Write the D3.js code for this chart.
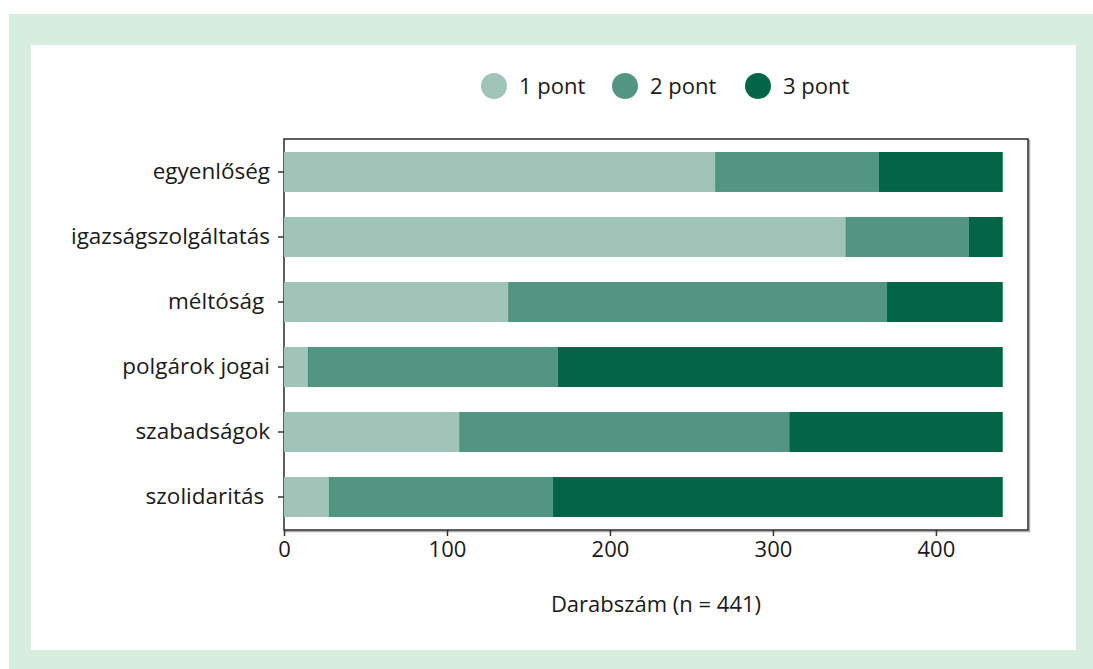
<!DOCTYPE html>
<html>
<head>
<meta charset="utf-8">
<script src="https://cdn.jsdelivr.net/npm/d3@7"></script>
<style>
  body { margin: 0; background: #fff; }
  text { font-family: "Open Sans", "Noto Sans", sans-serif; fill: #1a1a1a; white-space: pre; }
</style>
</head>
<body>
<div id="chart-area"></div>
<script>
let width = 1093, height = 669;

// data
let categories = ["egyenlőség", "igazságszolgáltatás", "méltóság ", "polgárok jogai", "szabadságok", "szolidaritás "];
let series = ["1 pont", "2 pont", "3 pont"];
let pont1 = [265, 345, 138, 15, 108, 28];
let pont2 = [100, 75, 232, 153, 202, 137];
let pont3 = [76, 21, 71, 273, 131, 276];
let xTicks = [0, 100, 200, 300, 400];
let xTitle = "Darabszám (n = 441)";

let colors = ["#a0c5b8", "#529682", "#026646"];

let rows = categories.map((c, i) => ({ cat: c, "1 pont": pont1[i], "2 pont": pont2[i], "3 pont": pont3[i] }));

let svg = d3.select("#chart-area").append("svg")
    .attr("width", width)
    .attr("height", height);

// green frame
svg.append("rect").attr("x", 9).attr("y", 14).attr("width", width - 9).attr("height", height - 14).attr("fill", "#d7ede0");
svg.append("rect").attr("x", 31).attr("y", 45).attr("width", 1045).attr("height", 605).attr("fill", "#fff");

let m = { left: 284, top: 139, right: 1028, bottom: 530 };

let x = d3.scaleLinear().domain([0, 456.5]).range([m.left, m.right]);
let y = d3.scaleBand().domain(categories).range([m.top, m.bottom]).paddingInner(0.385).paddingOuter(0.2);

let stack = d3.stack().keys(series)(rows);

// plot box shadow + border
svg.append("rect").attr("x", m.left + 1.5).attr("y", m.top + 1.5)
    .attr("width", m.right - m.left).attr("height", m.bottom - m.top)
    .attr("fill", "none").attr("stroke", "#aaa").attr("stroke-width", 1.5);
svg.append("rect").attr("x", m.left).attr("y", m.top)
    .attr("width", m.right - m.left).attr("height", m.bottom - m.top)
    .attr("fill", "#fff").attr("stroke", "#2a2a2a").attr("stroke-width", 1.5);

let layer = svg.selectAll(".layer")
    .data(stack)
    .enter().append("g")
    .attr("class", "layer")
    .attr("fill", (d, i) => colors[i]);

layer.selectAll("rect")
    .data(d => d.map(v => Object.assign(v, { cat: v.data.cat })))
    .enter().append("rect")
    .attr("x", d => x(d[0]))
    .attr("y", d => y(d.cat))
    .attr("width", d => x(d[1]) - x(d[0]))
    .attr("height", y.bandwidth());

// thin dark line where 1 pont meets 2 pont
svg.selectAll(".sep")
    .data(rows)
    .enter().append("line")
    .attr("x1", d => x(d["1 pont"])).attr("x2", d => x(d["1 pont"]))
    .attr("y1", d => y(d.cat)).attr("y2", d => y(d.cat) + y.bandwidth())
    .attr("stroke", "#3f8a70").attr("stroke-width", 1);

// y axis
let yAxis = svg.append("g")
    .attr("transform", `translate(${m.left},0)`)
    .call(d3.axisLeft(y).tickSize(6).tickPadding(8));
yAxis.select(".domain").remove();
yAxis.selectAll("line").attr("stroke", "#333").attr("stroke-width", 1.5);
yAxis.selectAll("text").style("font-size", "22.5px").attr("fill", "#1a1a1a")
    .style("font-family", '"Open Sans", sans-serif');

// x axis
let xAxis = svg.append("g")
    .attr("transform", `translate(0,${m.bottom})`)
    .call(d3.axisBottom(x).tickValues(xTicks).tickSize(6).tickPadding(5));
xAxis.select(".domain").remove();
xAxis.selectAll("line").attr("stroke", "#333").attr("stroke-width", 1.5);
xAxis.selectAll("text").style("font-size", "22px").attr("fill", "#1a1a1a")
    .style("font-family", '"Open Sans", sans-serif');

svg.append("text")
    .attr("x", (m.left + m.right) / 2)
    .attr("y", 604)
    .attr("dy", "0.35em")
    .attr("text-anchor", "middle")
    .style("font-size", "22px")
    .text(xTitle);

// legend
let legendX = [494, 625, 758];
let legend = svg.selectAll(".legend")
    .data(series)
    .enter().append("g")
    .attr("class", "legend")
    .attr("transform", (d, i) => `translate(${legendX[i]},86)`);
legend.append("circle").attr("r", 13).attr("fill", (d, i) => colors[i]);
legend.append("text").attr("x", 25).attr("dy", "0.35em")
    .style("font-size", "22px").text(d => d);
</script>
</body>
</html>
